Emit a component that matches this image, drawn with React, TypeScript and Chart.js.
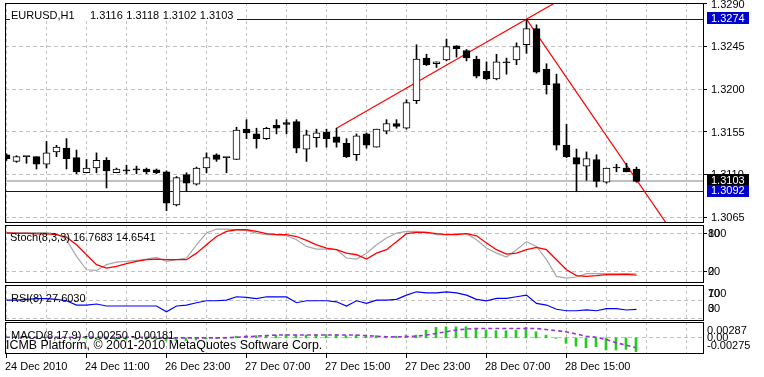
import React, { useEffect, useRef } from "react";
import { Chart, registerables } from "chart.js";

Chart.register(...registerables);

// ---------------- data ----------------
const symbolLabel = "EURUSD,H1";

const opens = [
  1.3131, 1.3124, 1.3129, 1.3129, 1.3121, 1.3134, 1.3138, 1.3128, 1.3112, 1.3117,
  1.3125, 1.3112, 1.3114, 1.3115, 1.3116, 1.3115, 1.3113, 1.3078, 1.3110, 1.3100,
  1.3117, 1.3131, 1.3128, 1.3126, 1.3158, 1.3153, 1.3148, 1.3162, 1.3165, 1.3166,
  1.3137, 1.3149, 1.3155, 1.3150, 1.3143, 1.3131, 1.3153, 1.3139, 1.3156, 1.3164,
  1.3159, 1.3188, 1.3233, 1.3227, 1.3231, 1.3246, 1.3241, 1.3232, 1.3219, 1.3211,
  1.3228, 1.3231, 1.3247, 1.3264, 1.3221, 1.3206, 1.3141, 1.3128, 1.3119, 1.3126,
  1.3102, 1.3117, 1.3117, 1.3116,
];
const highs = [
  1.3132, 1.3130, 1.3129, 1.3129, 1.3145, 1.3141, 1.3148, 1.3136, 1.3126, 1.3133,
  1.3128, 1.3117, 1.3120, 1.3119, 1.3117, 1.3116, 1.3114, 1.3108, 1.3112, 1.3118,
  1.3133, 1.3132, 1.3128, 1.3160, 1.3168, 1.3159, 1.3160, 1.3168, 1.3168, 1.3168,
  1.3157, 1.3158, 1.3158, 1.3159, 1.3148, 1.3153, 1.3154, 1.3158, 1.3168, 1.3168,
  1.3189, 1.3247, 1.3237, 1.3229, 1.3253, 1.3246, 1.3242, 1.3235, 1.3229, 1.3237,
  1.3233, 1.3249, 1.3274, 1.3268, 1.3227, 1.3216, 1.3163, 1.3137, 1.3134, 1.3131,
  1.3117, 1.3121, 1.3122, 1.3118,
];
const lows = [
  1.3125, 1.3123, 1.3122, 1.3116, 1.3117, 1.3129, 1.3116, 1.3111, 1.3112, 1.3112,
  1.3096, 1.3112, 1.3111, 1.3111, 1.3111, 1.3111, 1.3072, 1.3077, 1.3092, 1.3099,
  1.3112, 1.3124, 1.3112, 1.3126, 1.3148, 1.3138, 1.3147, 1.3153, 1.3153, 1.3133,
  1.3124, 1.3139, 1.3139, 1.3139, 1.3128, 1.3125, 1.3138, 1.3139, 1.3153, 1.3159,
  1.3158, 1.3185, 1.3225, 1.3223, 1.3230, 1.3234, 1.3230, 1.3212, 1.3210, 1.3210,
  1.3216, 1.3226, 1.3238, 1.3217, 1.3195, 1.3136, 1.3128, 1.3092, 1.3104, 1.3097,
  1.3101, 1.3113, 1.3113, 1.3102,
];
const closes = [
  1.3127, 1.3129, 1.3129, 1.3121, 1.3133, 1.3139, 1.3127, 1.3113, 1.3117, 1.3125,
  1.3114, 1.3116, 1.3115, 1.3116, 1.3113, 1.3112, 1.3080, 1.3107, 1.3101, 1.3117,
  1.3128, 1.3126, 1.3128, 1.3157, 1.3154, 1.3148, 1.3159, 1.3159, 1.3163, 1.3138,
  1.3152, 1.3154, 1.3148, 1.3144, 1.3129, 1.3151, 1.3141, 1.3158, 1.3164, 1.3161,
  1.3186, 1.3232, 1.3226, 1.3229, 1.3245, 1.3243, 1.3233, 1.3214, 1.3211, 1.3229,
  1.3229, 1.3245, 1.3264, 1.3218, 1.3205, 1.3141, 1.3129, 1.3121, 1.3127, 1.3103,
  1.3117, 1.3118, 1.3113, 1.3103,
];

const stochMain = [
  81, 81, 81, 81, 81, 79, 70, 44, 23, 22,
  31, 35, 36, 37.7, 39.8, 42.4, 36, 38.8, 41.4, 62,
  80.4, 86.7, 86.7, 85.6, 84.5, 80.4, 77.8, 77.8, 76.2, 70,
  59.5, 55.4, 55.4, 54.4, 41.4, 39.8, 49, 62, 72.6, 80.4,
  83, 83, 81.4, 77.8, 77.8, 79.4, 79.4, 70, 57, 49,
  43, 54.4, 67, 59.5, 38.8, 12.7, 10, 11.7, 17, 17,
  17, 17, 17, 16.77,
];
const stochSignal = [
  80.5, 80, 80, 79, 79, 77.8, 74, 62, 46.5, 31,
  25.7, 28.3, 32.5, 36, 38.8, 39.8, 38.8, 38.8, 38.8, 49,
  62, 75, 83, 85.6, 85.6, 83, 79.4, 77.8, 77.8, 75,
  69, 62, 57, 54.4, 49, 46.5, 39.8, 49, 54.4, 67,
  79.4, 81.4, 81.4, 79.4, 77.8, 77.8, 79.4, 76.2, 64.8, 54.4,
  47.6, 49, 54.4, 58, 54.4, 38.8, 23, 13.8, 12.7, 13.8,
  15.5, 15.5, 15.8, 14.65,
];

const rsiValues = [
  50.2, 50, 52, 54, 54, 52, 48.5, 38, 38, 40.5,
  35.6, 35.6, 35.6, 35.6, 35.6, 35.6, 21.7, 35.6, 38, 43.7,
  48.5, 48.5, 50, 58.3, 56.8, 54, 58.3, 58.3, 58, 43.7,
  48.5, 48.5, 48.5, 46, 35.6, 48.5, 42, 50, 50, 52,
  62.4, 70.5, 68, 68, 70.5, 68, 62.4, 52, 48.5, 54.4,
  54.4, 58.3, 62.4, 42, 38, 27.6, 24, 24, 25.9, 24,
  29, 29, 25.9, 27.6,
];

const macdMain = [
  0.0002, 0.0002, 0.0002, 0.0001, 0.0001, 0.0002, 0.0001, -0.0001, -0.0002, -0.0002,
  -0.0003, -0.0003, -0.0003, -0.0003, -0.0003, -0.0003, -0.0005, -0.0005, -0.0005, -0.0004,
  -0.0002, -0.0001, 0.0, 0.0003, 0.0004, 0.0004, 0.0004, 0.0005, 0.0006, 0.0005,
  0.0005, 0.0006, 0.0006, 0.0006, 0.0004, 0.0005, 0.0004, 0.0004, 0.0002, 0.0003,
  0.0005, 0.0005, 0.0014, 0.0019, 0.002, 0.002, 0.002, 0.0017, 0.0014, 0.0013,
  0.0013, 0.0014, 0.0019, 0.0011, 0.0005, -0.0001, -0.001, -0.0015, -0.0018, -0.0016,
  -0.0022, -0.0022, -0.0021, -0.0025,
];
const macdSignal = [
  0.0001, 0.0001, 0.0001, 0.0001, 0.0001, 0.0001, 0.0001, 0.0001, 0.0001, 0.0001,
  0.0001, 0.0001, 0.0001, 0.0001, 0.0001, 0.0001, 0.0, 0.0, 0.0, 0.0,
  0.0, 0.0, 0.0, 0.0001, 0.0002, 0.0003, 0.0004, 0.0005, 0.0005, 0.0005,
  0.0005, 0.0005, 0.0005, 0.0005, 0.0005, 0.0005, 0.0004, 0.0003, 0.0002, 0.0002,
  0.0002, 0.0003, 0.0005, 0.0008, 0.0011, 0.0014, 0.0016, 0.0017, 0.0017, 0.0017,
  0.0017, 0.0017, 0.0017, 0.0017, 0.0015, 0.0013, 0.0011, 0.0007, 0.0003, 0.0001,
  -0.0003, -0.0009, -0.0013, -0.00181,
];

const timeTickBars = [0, 8, 16, 24, 32, 40, 48, 56];
const timeTickLabels = [
  "24 Dec 2010", "24 Dec 11:00", "26 Dec 23:00", "27 Dec 07:00",
  "27 Dec 15:00", "27 Dec 23:00", "28 Dec 07:00", "28 Dec 15:00",
];
const priceTicks = [1.329, 1.3245, 1.32, 1.3155, 1.311, 1.3065];
const resistanceLevel = 1.3274;
const supportLevel = 1.3092;
const bidLevel = 1.3103;
const upTrendAnchors = [[33, 1.3159], [52, 1.3274]];
const downTrendAnchors = [[52, 1.3274], [62, 1.312]];

const stochLabel = "Stoch(8,3,3) 16.7683 14.6541";
const rsiLabel = "RSI(8) 27.6030";
const macdLabel = "MACD(8,17,9) -0.00250 -0.00181";
const macdAxisLabels = ["0.00287", "0.00", "-0.00275"];
const macdRange = [-0.00275, 0.00287];
const copyrightLabel = "ICMB Platform, \u00A9 2001-2010 MetaQuotes Software Corp.";

// ---------------- helpers ----------------
const W = 764;
const H = 377;
const FONT = '11px "Liberation Sans", Arial, sans-serif';
const GRID = "#C0C0C0";
const LEVEL_BLUE = "#0000F0";
const BOX_BLUE = "#0000CC";
const crisp = (v: number) => Math.floor(v) + 0.5;

function ray(anchors: number[][], toBar: number) {
  const [[b1, p1], [b2, p2]] = anchors;
  const s = (p2 - p1) / (b2 - b1);
  return [
    { x: b1, y: p1 },
    { x: toBar, y: p2 + s * (toBar - b2) },
  ];
}

function baseOptions(top: number, bottom: number, yMin: number, yMax: number, xMin: number): any {
  return {
    responsive: false,
    animation: false,
    devicePixelRatio: 1,
    events: [],
    layout: { padding: { left: 5, right: 61, top, bottom: H - bottom } },
    plugins: { legend: { display: false }, tooltip: { enabled: false } },
    scales: {
      x: { type: "linear", min: xMin, max: xMin + 69.8, display: false, offset: false },
      y: { type: "linear", min: yMin, max: yMax, display: false, beginAtZero: false },
    },
  };
}

function drawVGrid(chart: any) {
  const { ctx, chartArea: a, scales } = chart;
  ctx.save();
  ctx.strokeStyle = GRID;
  ctx.lineWidth = 1;
  ctx.setLineDash([3, 3]);
  for (let b = 0; b <= 68; b += 4) {
    const px = crisp(scales.x.getPixelForValue(b));
    if (px <= a.left + 0.5 || px >= a.right - 0.5) continue;
    ctx.beginPath();
    ctx.moveTo(px, a.top);
    ctx.lineTo(px, a.bottom);
    ctx.stroke();
  }
  ctx.restore();
}

function drawHGrid(chart: any, values: number[]) {
  const { ctx, chartArea: a, scales } = chart;
  ctx.save();
  ctx.strokeStyle = GRID;
  ctx.lineWidth = 1;
  ctx.setLineDash([4, 3]);
  values.forEach((v) => {
    const py = crisp(scales.y.getPixelForValue(v));
    if (py <= a.top + 1.5 || py >= a.bottom - 0.5) return;
    ctx.beginPath();
    ctx.moveTo(a.left, py);
    ctx.lineTo(a.right, py);
    ctx.stroke();
  });
  ctx.restore();
}

function drawBox(chart: any) {
  const { ctx, chartArea: a } = chart;
  ctx.save();
  ctx.strokeStyle = "#000";
  ctx.lineWidth = 1;
  ctx.setLineDash([]);
  ctx.strokeRect(crisp(a.left), crisp(a.top), Math.round(a.right - a.left), Math.round(a.bottom - a.top));
  ctx.restore();
}

function text(ctx: any, s: string, x: number, y: number, color = "#000", font = FONT) {
  ctx.save();
  ctx.font = font;
  ctx.fillStyle = color;
  ctx.textBaseline = "middle";
  ctx.textAlign = "left";
  ctx.fillText(s, x, y);
  ctx.restore();
}

function rightTick(chart: any, y: number) {
  const { ctx, chartArea: a } = chart;
  ctx.save();
  ctx.strokeStyle = "#000";
  ctx.lineWidth = 1;
  ctx.beginPath();
  ctx.moveTo(a.right, crisp(y));
  ctx.lineTo(a.right + 4, crisp(y));
  ctx.stroke();
  ctx.restore();
}

// ---------------- main chart ----------------
function mainConfig(): any {
  const idx = opens.map((_, i) => i);
  const wickData = idx.map((i) => ({ x: i, y: [lows[i], highs[i]] }));
  const bodyData = idx.map((i) => ({ x: i, y: [opens[i], closes[i]] }));
  const bodyColors = idx.map((i) => (closes[i] - opens[i] > 0.00015 ? "#FFFFFF" : "#000000"));

  const plugin = {
    id: "mainDecor",
    beforeDatasetsDraw(chart: any) {
      const { ctx, chartArea: a, scales } = chart;
      drawVGrid(chart);
      drawHGrid(chart, priceTicks);
      ctx.save();
      const by = Math.round(scales.y.getPixelForValue(bidLevel));
      ctx.strokeStyle = "#C0C0C0";
      ctx.lineWidth = 2;
      ctx.beginPath();
      ctx.moveTo(a.left, by);
      ctx.lineTo(a.right, by);
      ctx.stroke();
      ctx.strokeStyle = LEVEL_BLUE;
      ctx.lineWidth = 1;
      [resistanceLevel, supportLevel].forEach((lv) => {
        const py = crisp(scales.y.getPixelForValue(lv));
        ctx.beginPath();
        ctx.moveTo(a.left, py);
        ctx.lineTo(a.right, py);
        ctx.stroke();
      });
      ctx.restore();
    },
    afterDatasetsDraw(chart: any) {
      const { ctx } = chart;
      drawBox(chart);
      ctx.save();
      ctx.fillStyle = "#FFFFFF";
      ctx.fillRect(10, 4, 227, 16);
      ctx.font = FONT;
      ctx.fillStyle = "#000";
      ctx.textBaseline = "alphabetic";
      ctx.fillText(symbolLabel, 11, 19);
      const last = opens.length - 1;
      let x = 90;
      [opens[last], highs[last], lows[last], closes[last]].forEach((v) => {
        const s = v.toFixed(4);
        ctx.fillText(s, x, 19);
        x += ctx.measureText(s).width + 3.5;
      });
      ctx.restore();
    },
    afterDraw(chart: any) {
      const { ctx, chartArea: a, scales } = chart;
      priceTicks.forEach((v) => {
        const py = scales.y.getPixelForValue(v);
        rightTick(chart, py);
        text(ctx, v.toFixed(4), a.right + 8, py + 0.5);
      });
      const boxes = [
        { v: resistanceLevel, bg: BOX_BLUE },
        { v: bidLevel, bg: "#000000" },
        { v: supportLevel, bg: BOX_BLUE },
      ];
      boxes.forEach((b) => {
        const py = scales.y.getPixelForValue(b.v) - 1;
        ctx.save();
        ctx.fillStyle = b.bg;
        ctx.fillRect(a.right + 4, Math.round(py - 6), 42, 12);
        ctx.restore();
        text(ctx, b.v.toFixed(4), a.right + 8, py + 0.5, "#FFFFFF");
      });
    },
  };

  return {
    type: "bar",
    data: {
      datasets: [
        {
          type: "line",
          data: ray(upTrendAnchors, 58),
          borderColor: "#FF0000",
          borderWidth: 1.2,
          pointRadius: 0,
          order: 9,
        },
        {
          type: "line",
          data: ray(downTrendAnchors, 70),
          borderColor: "#FF0000",
          borderWidth: 1.2,
          pointRadius: 0,
          order: 8,
        },
        {
          type: "bar",
          data: wickData,
          backgroundColor: "#000000",
          barThickness: 1,
          grouped: false,
          order: 5,
        },
        {
          type: "bar",
          data: bodyData,
          backgroundColor: bodyColors,
          borderColor: "#000000",
          borderWidth: 1,
          borderSkipped: false,
          barThickness: 7,
          minBarLength: 1,
          grouped: false,
          order: 4,
        },
      ],
    },
    options: baseOptions(3, 222, 1.306008, 1.329105, -0.15),
    plugins: [plugin],
  };
}

// ---------------- stochastic ----------------
function stochConfig(): any {
  const plugin = {
    id: "stochDecor",
    beforeDatasetsDraw(chart: any) {
      drawVGrid(chart);
      drawHGrid(chart, [80, 20]);
    },
    afterDatasetsDraw(chart: any) {
      drawBox(chart);
      text(chart.ctx, stochLabel, 10, 237.5);
    },
    afterDraw(chart: any) {
      const { ctx, chartArea: a, scales } = chart;
      const y80 = scales.y.getPixelForValue(80);
      const y20 = scales.y.getPixelForValue(20);
      rightTick(chart, y80);
      rightTick(chart, y20);
      text(ctx, "100", a.right + 5, y80 + 0.5);
      text(ctx, "80", a.right + 5, y80 + 0.5);
      text(ctx, "20", a.right + 5, y20 + 0.5);
      text(ctx, "0", a.right + 5, y20 + 0.5);
    },
  };
  return {
    type: "line",
    data: {
      datasets: [
        {
          data: stochMain.map((v, i) => ({ x: i, y: v })),
          borderColor: "#A8A8A8",
          borderWidth: 1.2,
          pointRadius: 0,
          order: 2,
        },
        {
          data: stochSignal.map((v, i) => ({ x: i, y: v })),
          borderColor: "#FF0000",
          borderWidth: 1.3,
          pointRadius: 0,
          order: 1,
        },
      ],
    },
    options: baseOptions(225, 282, 3.9, 93, -0.15),
    plugins: [plugin],
  };
}

// ---------------- RSI ----------------
function rsiConfig(): any {
  const plugin = {
    id: "rsiDecor",
    beforeDatasetsDraw(chart: any) {
      drawVGrid(chart);
      drawHGrid(chart, [50, 4]);
    },
    afterDatasetsDraw(chart: any) {
      drawBox(chart);
      text(chart.ctx, rsiLabel, 11, 298.5);
    },
    afterDraw(chart: any) {
      const { ctx, chartArea: a, scales } = chart;
      const y70 = scales.y.getPixelForValue(70);
      const y30 = scales.y.getPixelForValue(30);
      text(ctx, "100", a.right + 5, y70 + 1.5);
      text(ctx, "70", a.right + 5, y70 + 1.5);
      text(ctx, "30", a.right + 5, y30 + 0.5);
      text(ctx, "0", a.right + 5, y30 + 0.5);
    },
  };
  return {
    type: "line",
    data: {
      datasets: [
        {
          data: rsiValues.map((v, i) => ({ x: i, y: v })),
          borderColor: "#0000FF",
          borderWidth: 1.2,
          pointRadius: 0,
        },
      ],
    },
    options: baseOptions(285, 320, 1.3, 87.2, -0.15),
    plugins: [plugin],
  };
}

// ---------------- MACD ----------------
function macdConfig(): any {
  const plugin = {
    id: "macdDecor",
    beforeDatasetsDraw(chart: any) {
      drawVGrid(chart);
      drawHGrid(chart, [0]);
    },
    afterDatasetsDraw(chart: any) {
      const { ctx } = chart;
      drawBox(chart);
      text(ctx, macdLabel, 11, 336);
      text(ctx, copyrightLabel, 6, 346, "#000", '12.4px "Liberation Sans", Arial, sans-serif');
    },
    afterDraw(chart: any) {
      const { ctx, chartArea: a, scales } = chart;
      text(ctx, macdAxisLabels[0], a.right + 4, a.top + 8.5);
      text(ctx, macdAxisLabels[1], a.right + 4, scales.y.getPixelForValue(0));
      text(ctx, macdAxisLabels[2], a.right + 4, a.bottom - 7);
      ctx.save();
      ctx.strokeStyle = "#000";
      ctx.lineWidth = 1;
      ctx.font = FONT;
      ctx.fillStyle = "#000";
      ctx.textBaseline = "alphabetic";
      timeTickBars.forEach((b, k) => {
        const px = crisp(scales.x.getPixelForValue(b));
        ctx.beginPath();
        ctx.moveTo(px, a.bottom);
        ctx.lineTo(px, a.bottom + 5);
        ctx.stroke();
        ctx.fillText(timeTickLabels[k], px - 1.5, 370);
      });
      ctx.restore();
    },
  };
  return {
    type: "bar",
    data: {
      datasets: [
        {
          type: "line",
          data: macdSignal.map((v, i) => ({ x: i, y: v })),
          borderColor: "#9B30D9",
          borderWidth: 1.6,
          borderDash: [4, 3],
          pointRadius: 0,
          order: 1,
        },
        {
          type: "bar",
          data: macdMain.map((v, i) => ({ x: i, y: v })),
          backgroundColor: "#22CC22",
          barThickness: 2,
          grouped: false,
          order: 2,
        },
      ],
    },
    options: baseOptions(322, 353, macdRange[0], macdRange[1], -0.1),
    plugins: [plugin],
  };
}

// ---------------- component ----------------
export default function App() {
  const mainRef = useRef<HTMLCanvasElement>(null);
  const stochRef = useRef<HTMLCanvasElement>(null);
  const rsiRef = useRef<HTMLCanvasElement>(null);
  const macdRef = useRef<HTMLCanvasElement>(null);

  useEffect(() => {
    const charts: Chart[] = [];
    if (mainRef.current) charts.push(new Chart(mainRef.current, mainConfig()));
    if (stochRef.current) charts.push(new Chart(stochRef.current, stochConfig()));
    if (rsiRef.current) charts.push(new Chart(rsiRef.current, rsiConfig()));
    if (macdRef.current) charts.push(new Chart(macdRef.current, macdConfig()));
    return () => charts.forEach((c) => c.destroy());
  }, []);

  const cs: React.CSSProperties = {
    position: "absolute",
    left: 0,
    top: 0,
    width: W,
    height: H,
    pointerEvents: "none",
  };

  return (
    <div
      style={{
        position: "fixed",
        left: 0,
        top: 0,
        width: W,
        height: H,
        background: "#FFFFFF",
        overflow: "hidden",
      }}
    >
      <canvas ref={mainRef} width={W} height={H} style={cs} />
      <canvas ref={stochRef} width={W} height={H} style={cs} />
      <canvas ref={rsiRef} width={W} height={H} style={cs} />
      <canvas ref={macdRef} width={W} height={H} style={cs} />
    </div>
  );
}
